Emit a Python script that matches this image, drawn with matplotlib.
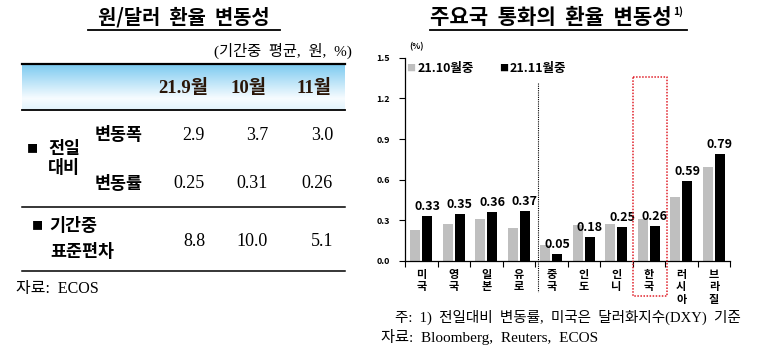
import matplotlib
matplotlib.use("Agg")
import matplotlib.pyplot as plt
import numpy as np
from matplotlib.colors import LinearSegmentedColormap

# ---------------- data ----------------
table_cols = ['21.9월', '10월', '11월']
row_range = ['2.9', '3.7', '3.0']       # 변동폭
row_rate = ['0.25', '0.31', '0.26']     # 변동률
row_std = ['8.8', '10.0', '5.1']        # 표준편차

countries = ['미국', '영국', '일본', '유로', '중국', '인도', '인니', '한국', '러시아', '브라질']
oct_vals = [0.23, 0.27, 0.31, 0.24, 0.12, 0.265, 0.27, 0.31, 0.47, 0.69]
nov_vals = [0.33, 0.35, 0.36, 0.37, 0.05, 0.18, 0.25, 0.26, 0.59, 0.79]
yticks = [0.0, 0.3, 0.6, 0.9, 1.2, 1.5]
series_names = ['21.10월중', '21.11월중']

KR = 'Noto Sans CJK KR'
SERIF = ['Liberation Serif', 'Noto Sans CJK KR']

W, H = 767, 362
fig = plt.figure(figsize=(W / 100, H / 100), dpi=100)
fig.patch.set_facecolor('white')

# overlay axes in pixel coordinates
ov = fig.add_axes([0, 0, 1, 1])
ov.axis('off')
ov.patch.set_alpha(0)

# ---------------- left table ----------------
ov.text(184, 17, '원/달러  환율  변동성', family=KR, fontweight='bold', fontsize=14.3,
        ha='center', va='center')
ov.plot([88, 280], [30, 30], color='black', lw=1.3)

ov.text(352, 51, '(기간중  평균,  원,  %)', family=SERIF, fontsize=11, ha='right', va='center')

cmap = LinearSegmentedColormap.from_list('hdr', [(0, '#7ccaf0'), (0.75, '#f7fcff'), (1.0, '#e2f3fc')])
grad = np.linspace(0, 1, 100).reshape(-1, 1)
ov.imshow(grad, cmap=cmap, extent=[22, 345, 110, 64], aspect='auto', zorder=0)
ov.set_xlim(0, W)
ov.set_ylim(H, 0)

for y, lw in [(64, 1.6), (110, 1.3), (207, 1.1), (271, 1.1)]:
    ov.plot([22, 345], [y, y], color='black', lw=lw, zorder=2)

col_right = [208, 267, 331]
for x, c in zip(col_right, table_cols):
    ov.text(x, 88, c, family=SERIF, fontweight='bold', fontsize=13.5, ha='right', va='center',
            color='#2a1608')

val_right = [205, 268, 333]
for x, v in zip(val_right, row_range):
    ov.text(x, 135, v, family=SERIF, fontsize=13, ha='right', va='center')
for x, v in zip(val_right, row_rate):
    ov.text(x, 184, v, family=SERIF, fontsize=13, ha='right', va='center')
for x, v in zip(val_right, row_std):
    ov.text(x, 241, v, family=SERIF, fontsize=13, ha='right', va='center')

ov.text(32, 149, '■', family=KR, fontsize=8, ha='center', va='center')
ov.text(48, 149, '전일', family=KR, fontweight='bold', fontsize=12.5, ha='left', va='center')
ov.text(48, 168, '대비', family=KR, fontweight='bold', fontsize=12.5, ha='left', va='center')
ov.text(95, 135, '변동폭', family=KR, fontweight='bold', fontsize=12.5, ha='left', va='center')
ov.text(95, 184, '변동률', family=KR, fontweight='bold', fontsize=12.5, ha='left', va='center')
ov.text(37, 226, '■', family=KR, fontsize=8, ha='center', va='center')
ov.text(49, 226, '기간중', family=KR, fontweight='bold', fontsize=12.5, ha='left', va='center')
ov.text(50, 252, '표준편차', family=KR, fontweight='bold', fontsize=12.5, ha='left', va='center')

ov.text(16, 289, '자료:  ECOS', family=SERIF, fontsize=11.5, ha='left', va='center')

# ---------------- right chart ----------------
ttl = ov.text(430, 17, '주요국  통화의  환율  변동성', family=KR, fontweight='bold', fontsize=15.2,
              ha='left', va='center')
ov.plot([430, 687], [30, 30], color='black', lw=1.3)
fig.canvas.draw()
bb = ttl.get_window_extent(renderer=fig.canvas.get_renderer())
ov.text(bb.x1 + 1, H - bb.y1 + 5, '1)', family=KR, fontweight='bold', fontsize=7.5,
        ha='left', va='center')

ax = fig.add_axes([405 / W, 1 - 261 / H, 325 / W, (261 - 57.7) / H])
ax.patch.set_alpha(0)
x = np.arange(len(countries))
bw = 0.31
ax.bar(x - 0.18, oct_vals, width=bw, color='#bfbfbf', zorder=2)
ax.bar(x + 0.18, nov_vals, width=bw, color='black', zorder=2)
for xi, v in zip(x, nov_vals):
    ax.annotate(f'{v:.2f}', (xi + 0.18, v), xytext=(0, 2), textcoords='offset points',
                ha='center', va='bottom', family=KR, fontweight='bold', fontsize=9)

ax.set_xlim(-0.5, len(countries) - 0.5)
ax.set_ylim(0, 1.5)
ax.set_yticks(yticks)
ax.set_yticklabels([f'{t:.1f}' for t in yticks], family=KR, fontweight='bold', fontsize=6.5)
ax.set_xticks(np.arange(-0.5, len(countries), 1.0))
ax.set_xticklabels([])
ax.set_xticks(x, minor=True)
ax.set_xticklabels(['\n'.join(c) for c in countries], minor=True, family=KR,
                   fontweight='bold', fontsize=8, linespacing=0.95, va='top')
ax.tick_params(axis='x', which='minor', length=0, pad=5)
ax.tick_params(axis='x', which='major', length=4, width=0.8, direction='out')
ax.tick_params(axis='y', length=4, width=0.8, direction='out', pad=7)
for s in ['top', 'right']:
    ax.spines[s].set_visible(False)
for s in ['left', 'bottom']:
    ax.spines[s].set_linewidth(0.9)

ax.text(-0.38, 1.58, '(%)', family=KR, fontweight='bold', fontsize=6, ha='left', va='center',
        clip_on=False)

# legend (manual)
ax.text(-0.33, 1.42, '■', color='#bfbfbf', family=KR, fontsize=6.5, ha='center', va='center')
ax.text(-0.12, 1.42, series_names[0], family=KR, fontweight='bold', fontsize=9, ha='left', va='center')
ax.text(2.52, 1.42, '■', color='black', family=KR, fontsize=6.5, ha='center', va='center')
ax.text(2.73, 1.42, series_names[1], family=KR, fontweight='bold', fontsize=9, ha='left', va='center')

# dotted separator and red box
ax.plot([3.6, 3.6], [1.31, -0.23], color='black', lw=0.8, ls=(0, (1, 1)), clip_on=False, zorder=3)
ax.plot([6.5, 7.57, 7.57, 6.5, 6.5], [1.358, 1.358, -0.258, -0.258, 1.358],
        color='#e0202a', lw=1.1, ls=(0, (1, 1)), clip_on=False, zorder=3)

ov.text(395, 317, '주:  1)  전일대비  변동률,  미국은  달러화지수(DXY)  기준', family=SERIF,
        fontsize=10.5, ha='left', va='center')
ov.text(381, 337, '자료:  Bloomberg,  Reuters,  ECOS', family=SERIF, fontsize=11,
        ha='left', va='center')

fig.savefig('out.png', dpi=100)
